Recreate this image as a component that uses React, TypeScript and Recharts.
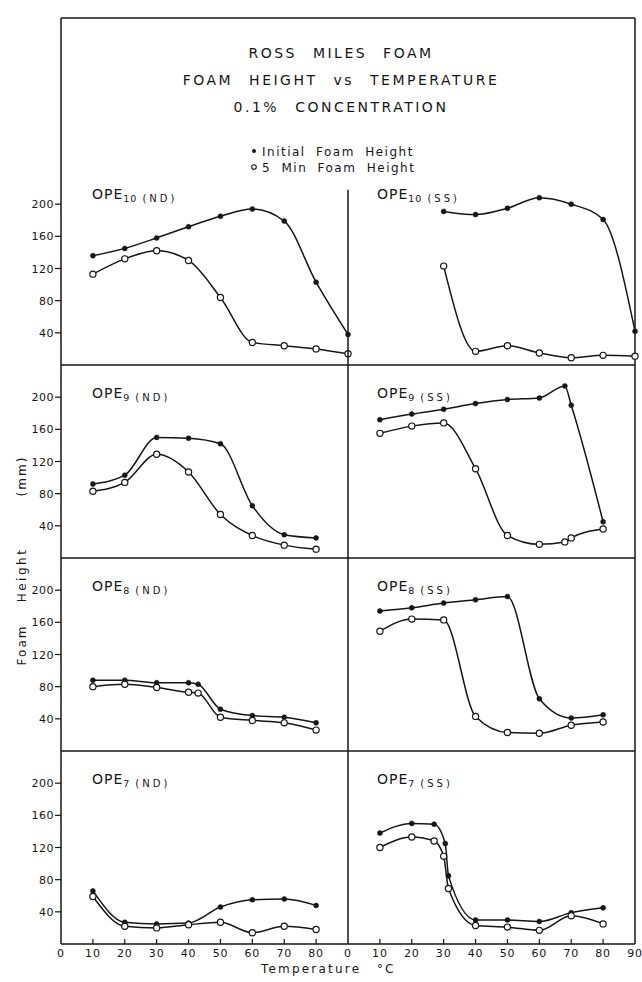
import React from "react";
import { Line, LineChart, ReferenceLine, XAxis, YAxis } from "recharts";

// temperatures (°C) for each set of readings
const tempsTo80 = [10, 20, 30, 40, 50, 60, 70, 80];
const tempsTo90 = [10, 20, 30, 40, 50, 60, 70, 80, 90];
const tempsFrom30 = [30, 40, 50, 60, 70, 80, 90];
const ope9ssTemps = [10, 20, 30, 40, 50, 60, 68, 70, 80];
const ope8ndTemps = [10, 20, 30, 40, 43, 50, 60, 70, 80];
const ope7ssInitialTemps = [10, 20, 27, 30.5, 31.5, 40, 50, 60, 70, 80];
const ope7ss5MinTemps = [10, 20, 27, 30, 31.5, 40, 50, 60, 70, 80];

// foam height (mm)
const ope10ndInitial = [136, 145, 158, 172, 185, 194, 179, 103, 38];
const ope10nd5Min = [113, 132, 142, 130, 84, 28, 24, 20, 14];
const ope10ssInitial = [191, 187, 195, 208, 200, 181, 42];
const ope10ss5Min = [123, 17, 24, 15, 9, 12, 11];
const ope9ndInitial = [92, 103, 150, 149, 142, 65, 29, 25];
const ope9nd5Min = [83, 94, 129, 107, 54, 28, 16, 11];
const ope9ssInitial = [172, 179, 185, 192, 197, 199, 214, 190, 45];
const ope9ss5Min = [155, 164, 168, 111, 28, 17, 20, 25, 36];
const ope8ndInitial = [88, 88, 85, 85, 83, 52, 44, 42, 35];
const ope8nd5Min = [80, 83, 79, 73, 72, 42, 38, 35, 26];
const ope8ssInitial = [174, 178, 184, 188, 192, 65, 41, 45];
const ope8ss5Min = [149, 164, 163, 43, 23, 22, 32, 36];
const ope7ndInitial = [66, 27, 25, 26, 46, 55, 56, 48];
const ope7nd5Min = [59, 22, 20, 24, 27, 14, 22, 18];
const ope7ssInitial = [138, 150, 149, 125, 85, 30, 30, 28, 39, 45];
const ope7ss5Min = [120, 133, 128, 109, 69, 23, 21, 17, 35, 25];

const xTicks = [0, 10, 20, 30, 40, 50, 60, 70, 80, 90];
const yTicks = [40, 80, 120, 160, 200];

const pts = (t: number[], v: number[]) => t.map((x, i) => ({ t: x, v: v[i] }));

const panels = [
  { sub: "10", kind: "ND", row: 0, col: 0, initial: pts(tempsTo90, ope10ndInitial), fiveMin: pts(tempsTo90, ope10nd5Min) },
  { sub: "10", kind: "SS", row: 0, col: 1, initial: pts(tempsFrom30, ope10ssInitial), fiveMin: pts(tempsFrom30, ope10ss5Min) },
  { sub: "9", kind: "ND", row: 1, col: 0, initial: pts(tempsTo80, ope9ndInitial), fiveMin: pts(tempsTo80, ope9nd5Min) },
  { sub: "9", kind: "SS", row: 1, col: 1, initial: pts(ope9ssTemps, ope9ssInitial), fiveMin: pts(ope9ssTemps, ope9ss5Min) },
  { sub: "8", kind: "ND", row: 2, col: 0, initial: pts(ope8ndTemps, ope8ndInitial), fiveMin: pts(ope8ndTemps, ope8nd5Min) },
  { sub: "8", kind: "SS", row: 2, col: 1, initial: pts(tempsTo80, ope8ssInitial), fiveMin: pts(tempsTo80, ope8ss5Min) },
  { sub: "7", kind: "ND", row: 3, col: 0, initial: pts(tempsTo80, ope7ndInitial), fiveMin: pts(tempsTo80, ope7nd5Min) },
  { sub: "7", kind: "SS", row: 3, col: 1, initial: pts(ope7ssInitialTemps, ope7ssInitial), fiveMin: pts(ope7ss5MinTemps, ope7ss5Min) },
];

// layout
const INK = "#161616";
const FONT = "'DejaVu Sans', sans-serif";
const COL_X = [61, 348];
const COL_W = 287;
const ROW_BASE = [365, 558, 751, 944];
const ROW_H = 193;
const PPU = ROW_H / 240;
const FRAME_TOP = 18;
const AXIS_W = 40;
const RIGHT_W = 7;
const TOP_H = 4;
const BOTTOM_H = 26;
const DIVIDER_TOP = 218;
const AXIS_LINE = { stroke: INK, strokeWidth: 1.5 };
const FILLED_DOT = { r: 2.5, fill: INK, stroke: INK, strokeWidth: 0.5 };
const OPEN_DOT = { r: 3.1, fill: "#fff", stroke: INK, strokeWidth: 1.2 };

const makeBottomTick = (col: number) => (props: any) => {
  const { x, y, payload } = props;
  const v = payload.value;
  const showLabel = col === 1 || v <= 80;
  const showMark = v > 0 && v < 90;
  return (
    <g>
      {showMark && <line x1={x} x2={x} y1={y} y2={y - 5} stroke={INK} strokeWidth={1.2} />}
      {showLabel && (
        <text x={x} y={y + 13} textAnchor="middle" fontSize={11} fontFamily={FONT} fill={INK} letterSpacing={0.8}>
          {v}
        </text>
      )}
    </g>
  );
};

const topTick = (props: any) => {
  const { x, y, payload } = props;
  if (payload.value === 0 || payload.value === 90) return <g />;
  return <line x1={x} x2={x} y1={y} y2={y + 5} stroke={INK} strokeWidth={1.2} />;
};

const leftTick = (props: any) => {
  const { x, y, payload } = props;
  return (
    <text x={x} y={y} dy={4} textAnchor="end" fontSize={11} fontFamily={FONT} fill={INK} letterSpacing={0.5}>
      {payload.value}
    </text>
  );
};

const rightTick = (props: any) => {
  const { x, y } = props;
  return <line x1={x} x2={x - 6} y1={y} y2={y} stroke={INK} strokeWidth={1.2} />;
};

function Panel({ p }: { p: any }) {
  const base = ROW_BASE[p.row];
  const plotTop = p.row === 0 ? FRAME_TOP : base - ROW_H;
  const plotH = base - plotTop;
  const yMax = plotH / PPU;
  const left = p.col === 0;
  const topRow = p.row === 0;
  const bottomRow = p.row === 3;
  return (
    <div style={{ position: "absolute", left: COL_X[p.col] - AXIS_W, top: plotTop - TOP_H }}>
      <LineChart
        width={AXIS_W + COL_W + RIGHT_W}
        height={TOP_H + plotH + BOTTOM_H}
        margin={{ top: topRow ? 0 : TOP_H, right: left ? RIGHT_W : 0, bottom: 0, left: 0 }}
      >
        <XAxis
          xAxisId="b"
          type="number"
          dataKey="t"
          domain={[0, 90]}
          ticks={xTicks}
          interval={0}
          height={BOTTOM_H}
          tickSize={0}
          tickMargin={0}
          tickLine={false}
          axisLine={AXIS_LINE}
          tick={bottomRow ? makeBottomTick(p.col) : false}
        />
        {topRow && (
          <XAxis
            xAxisId="t"
            orientation="top"
            type="number"
            domain={[0, 90]}
            ticks={xTicks}
            interval={0}
            height={TOP_H}
            tickSize={0}
            tickMargin={0}
            tickLine={false}
            axisLine={AXIS_LINE}
            tick={topTick}
          />
        )}
        <YAxis
          yAxisId="l"
          type="number"
          domain={[0, yMax]}
          ticks={yTicks}
          interval={0}
          width={AXIS_W}
          axisLine={left || !topRow ? AXIS_LINE : false}
          tickLine={left ? { stroke: INK, strokeWidth: 1.2 } : false}
          tickSize={6}
          tickMargin={1}
          tick={left ? leftTick : false}
        />
        {!left && (
          <YAxis
            yAxisId="r"
            orientation="right"
            type="number"
            domain={[0, yMax]}
            ticks={yTicks}
            interval={0}
            width={RIGHT_W}
            tickSize={0}
            tickMargin={0}
            tickLine={false}
            axisLine={AXIS_LINE}
            tick={rightTick}
          />
        )}
        {!left && topRow && (
          <ReferenceLine
            xAxisId="b"
            yAxisId="l"
            segment={[
              { x: 0, y: 0 },
              { x: 0, y: DIVIDER_TOP },
            ]}
            stroke={INK}
            strokeWidth={1.5}
          />
        )}
        <Line
          xAxisId="b"
          yAxisId="l"
          data={p.initial}
          dataKey="v"
          type="monotone"
          stroke={INK}
          strokeWidth={1.5}
          dot={FILLED_DOT}
          activeDot={false}
          isAnimationActive={false}
        />
        <Line
          xAxisId="b"
          yAxisId="l"
          data={p.fiveMin}
          dataKey="v"
          type="monotone"
          stroke={INK}
          strokeWidth={1.5}
          dot={OPEN_DOT}
          activeDot={false}
          isAnimationActive={false}
        />
      </LineChart>
    </div>
  );
}

function PanelLabel({ p }: { p: any }) {
  const x = p.col === 0 ? 92 : 377;
  const y = ROW_BASE[p.row] - 200 * PPU + (p.row === 0 ? -5 : 1);
  return (
    <text x={x} y={y} fontSize={14} letterSpacing={1}>
      OPE
      <tspan fontSize={9.5} dy={3}>
        {p.sub}
      </tspan>
      <tspan fontSize={10} dx={5} letterSpacing={3}>
        ({p.kind})
      </tspan>
    </text>
  );
}

export default function App() {
  return (
    <div style={{ position: "absolute", left: 0, top: 0, width: 642, height: 982, overflow: "hidden", background: "#fff" }}>
      {panels.map((p) => (
        <Panel key={p.sub + p.kind} p={p} />
      ))}
      <svg
        width={642}
        height={982}
        style={{ position: "absolute", left: 0, top: 0, pointerEvents: "none" }}
        fontFamily={FONT}
        fill={INK}
      >
        <text x={341} y={58} textAnchor="middle" fontSize={14} letterSpacing={2.5} wordSpacing={9}>
          ROSS MILES FOAM
        </text>
        <text x={341} y={85} textAnchor="middle" fontSize={14} letterSpacing={2.5} wordSpacing={9}>
          FOAM HEIGHT vs TEMPERATURE
        </text>
        <text x={341} y={112} textAnchor="middle" fontSize={14} letterSpacing={2.5} wordSpacing={9}>
          0.1% CONCENTRATION
        </text>
        <circle cx={254} cy={151} r={2} fill={INK} />
        <text x={262} y={155.5} fontSize={12} letterSpacing={1.5} wordSpacing={5}>
          Initial Foam Height
        </text>
        <circle cx={254} cy={167} r={2.3} fill="#fff" stroke={INK} strokeWidth={1.1} />
        <text x={262} y={171.5} fontSize={12} letterSpacing={1.5} wordSpacing={5}>
          5 Min Foam Height
        </text>
        {panels.map((p) => (
          <PanelLabel key={p.sub + p.kind} p={p} />
        ))}
        <text transform="translate(25.5,645) rotate(-90)" textAnchor="middle" fontSize={12} letterSpacing={2}>
          Foam
        </text>
        <text transform="translate(25.5,575) rotate(-90)" textAnchor="middle" fontSize={12} letterSpacing={2.5}>
          Height
        </text>
        <text transform="translate(25.5,476) rotate(-90)" textAnchor="middle" fontSize={12} letterSpacing={2}>
          (mm)
        </text>
        <text x={261} y={973} fontSize={12} letterSpacing={2.2}>
          Temperature
        </text>
        <text x={377} y={973} fontSize={12} letterSpacing={2}>
          °C
        </text>
      </svg>
    </div>
  );
}
